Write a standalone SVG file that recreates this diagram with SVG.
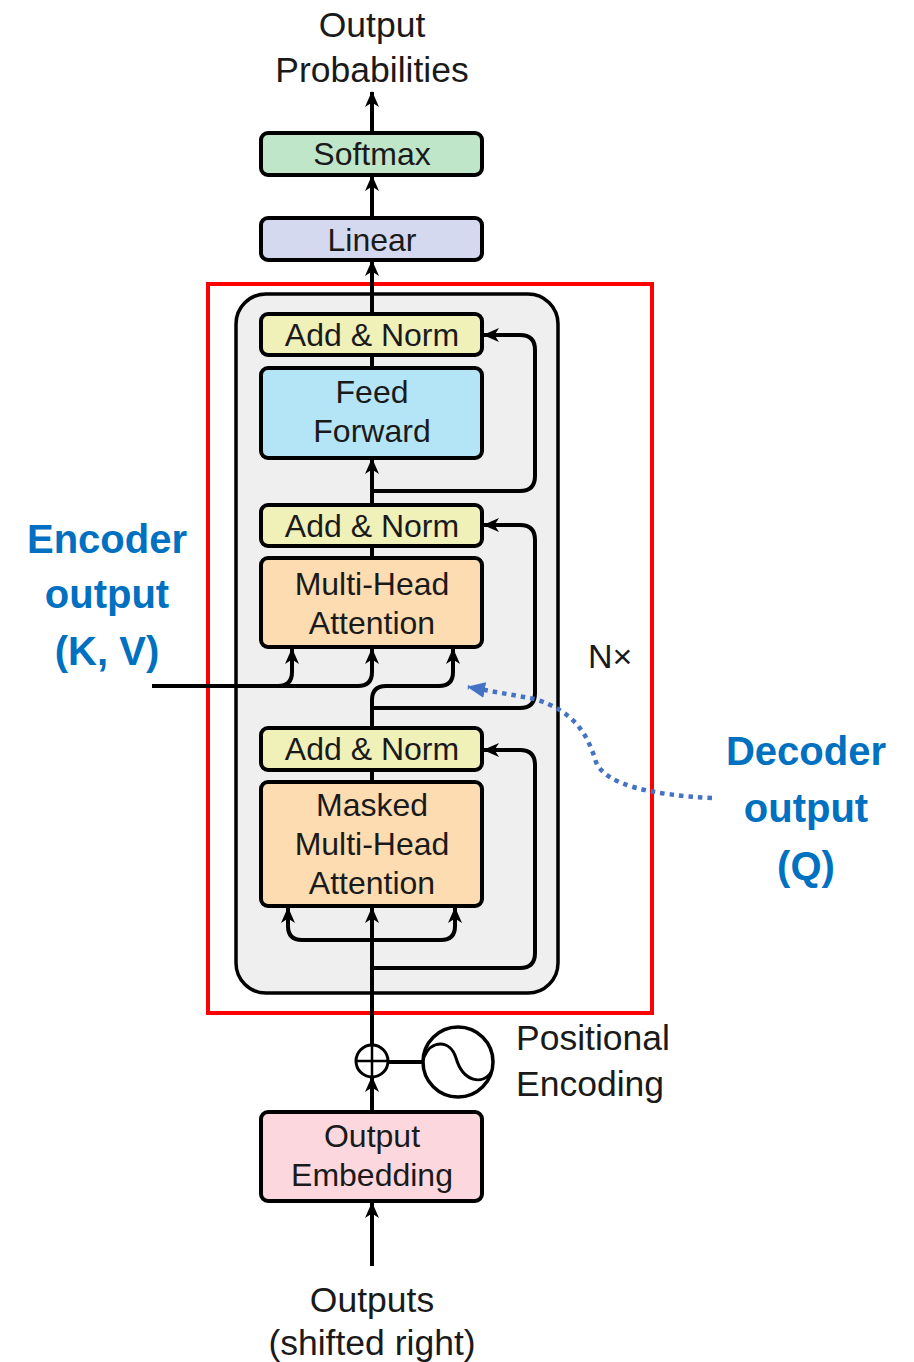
<svg xmlns="http://www.w3.org/2000/svg" width="914" height="1362" viewBox="0 0 914 1362">
  <style>
    .box { stroke: #000; stroke-width: 4; }
    .lbl { font-family: "Liberation Sans", Arial, sans-serif; font-size: 32px; fill: #1a1a1a; text-anchor: middle; }
    .big { font-family: "Liberation Sans", Arial, sans-serif; font-size: 35.5px; fill: #1a1a1a; text-anchor: middle; }
    .side { font-family: "Liberation Sans", Arial, sans-serif; font-size: 35.5px; fill: #1a1a1a; }
    .blue { font-family: "Liberation Sans", Arial, sans-serif; font-size: 40px; font-weight: bold; fill: #0070c0; text-anchor: middle; }
    .wire { fill: none; stroke: #000; stroke-width: 4; }
    .arrow { fill: none; stroke: #000; stroke-width: 4; marker-end: url(#head); }
    .addnorm { fill: #f0f0b9; }
  </style>
  <defs>
    <marker id="head" viewBox="0 0 16 14" refX="15" refY="7" markerWidth="16" markerHeight="14" markerUnits="userSpaceOnUse" orient="auto">
      <path d="M0,0 L16,7 L0,14 L4.5,7 z" fill="#000"/>
    </marker>
    <marker id="bluehead" viewBox="0 0 18 16" refX="17" refY="8" markerWidth="18" markerHeight="16" markerUnits="userSpaceOnUse" orient="auto">
      <path d="M0,0 L18,8 L0,16 z" fill="#4472c4"/>
    </marker>
  </defs>

  <rect width="914" height="1362" fill="#fff"/>

  <!-- decoder stack frame -->
  <g id="decoder-layer">
    <rect x="236" y="294" width="322" height="699" rx="30" fill="#efefef" stroke="#000" stroke-width="3.5"/>
    <text class="side" x="588" y="668" style="font-size:34px">N×</text>
  </g>

  <!-- highlight frame -->
  <g id="highlight">
    <rect x="208" y="284" width="444" height="729" fill="none" stroke="#ff0000" stroke-width="4"/>
  </g>

  <g id="connectors">
    <!-- top chain -->
    <path class="arrow" d="M372,133 V92"/>
    <path class="arrow" d="M372,218 V176"/>
    <path class="arrow" d="M372,314 V261"/>
    <!-- feed forward block -->
    <path class="wire" d="M372,368 V355"/>
    <path class="arrow" d="M372,505 V459"/>
    <path class="arrow" d="M372,491 H520 Q535,491 535,476 V350 Q535,335 520,335 H484"/>
    <!-- cross attention block -->
    <path class="wire" d="M372,558 V546"/>
    <path class="arrow" d="M372,708 H520 Q535,708 535,693 V540 Q535,525 520,525 H484"/>
    <path class="arrow" d="M372,727 V700 Q372,686 386,686 H439 Q453,686 453,672 V649"/>
    <path class="arrow" d="M152,686 H278 Q292,686 292,672 V649"/>
    <path class="arrow" d="M278,686 H358 Q372,686 372,672 V649"/>
    <!-- masked attention block -->
    <path class="wire" d="M372,782 V770"/>
    <path class="arrow" d="M372,968 H520 Q535,968 535,953 V765 Q535,750 520,750 H484"/>
    <path class="arrow" d="M372,1044 V908"/>
    <path class="arrow" d="M372,940 H302 Q288,940 288,926 V908"/>
    <path class="arrow" d="M372,940 H441 Q455,940 455,926 V908"/>
    <!-- embedding and positional encoding -->
    <path class="arrow" d="M372,1112 V1077"/>
    <path class="arrow" d="M372,1266 V1203"/>
    <path class="wire" d="M388,1062 H423"/>
    <!-- decoder query -->
    <path d="M712,798 C652,795 605,785 596,762 C588,736 576,712 535,699 L468,687" fill="none" stroke="#4472c4" stroke-width="4.5" stroke-dasharray="4.5 5" marker-end="url(#bluehead)"/>
  </g>

  <g id="softmax">
    <rect class="box" x="261" y="133" width="221" height="42" rx="7" fill="#bfe6c8"/>
    <text class="lbl" x="372" y="165">Softmax</text>
  </g>
  <g id="linear">
    <rect class="box" x="261" y="218" width="221" height="42" rx="7" fill="#d5d9ef"/>
    <text class="lbl" x="372" y="251">Linear</text>
  </g>
  <g id="addnorm-3">
    <rect class="box addnorm" x="261" y="314" width="221" height="41" rx="7"/>
    <text class="lbl" x="372" y="346">Add &amp; Norm</text>
  </g>
  <g id="feed-forward">
    <rect class="box" x="261" y="368" width="221" height="90" rx="7" fill="#b4e5f7"/>
    <text class="lbl" x="372" y="403">Feed</text>
    <text class="lbl" x="372" y="442">Forward</text>
  </g>
  <g id="addnorm-2">
    <rect class="box addnorm" x="261" y="505" width="221" height="41" rx="7"/>
    <text class="lbl" x="372" y="537">Add &amp; Norm</text>
  </g>
  <g id="multi-head-attention">
    <rect class="box" x="261" y="558" width="221" height="89" rx="7" fill="#fcdcb0"/>
    <text class="lbl" x="372" y="595">Multi-Head</text>
    <text class="lbl" x="372" y="634">Attention</text>
  </g>
  <g id="addnorm-1">
    <rect class="box addnorm" x="261" y="728" width="221" height="42" rx="7"/>
    <text class="lbl" x="372" y="760">Add &amp; Norm</text>
  </g>
  <g id="masked-attention">
    <rect class="box" x="261" y="782" width="221" height="124" rx="7" fill="#fcdcb0"/>
    <text class="lbl" x="372" y="816">Masked</text>
    <text class="lbl" x="372" y="855">Multi-Head</text>
    <text class="lbl" x="372" y="894">Attention</text>
  </g>
  <g id="adder">
    <circle cx="372" cy="1061" r="16" fill="#fff" stroke="#000" stroke-width="3"/>
    <path d="M356,1061 H388 M372,1045 V1077" stroke="#000" stroke-width="2.5"/>
  </g>
  <g id="positional-encoding">
    <circle cx="458" cy="1062" r="35" fill="#fff" stroke="#000" stroke-width="3.5"/>
    <path d="M424,1057 C431,1040 450,1039 456,1058 C463,1082 483,1086 492,1071" fill="none" stroke="#000" stroke-width="3"/>
    <text class="side" x="516" y="1050">Positional</text>
    <text class="side" x="516" y="1096">Encoding</text>
  </g>
  <g id="output-embedding">
    <rect class="box" x="261" y="1112" width="221" height="89" rx="7" fill="#fcd8de"/>
    <text class="lbl" x="372" y="1147">Output</text>
    <text class="lbl" x="372" y="1186">Embedding</text>
  </g>
  <g id="output-probabilities">
    <text class="big" x="372" y="37">Output</text>
    <text class="big" x="372" y="82">Probabilities</text>
  </g>
  <g id="outputs">
    <text class="big" x="372" y="1312">Outputs</text>
    <text class="big" x="372" y="1355">(shifted right)</text>
  </g>
  <g id="encoder-output">
    <text class="blue" x="107" y="553">Encoder</text>
    <text class="blue" x="107" y="608">output</text>
    <text class="blue" x="107" y="665">(K, V)</text>
  </g>
  <g id="decoder-output">
    <text class="blue" x="806" y="765">Decoder</text>
    <text class="blue" x="806" y="822">output</text>
    <text class="blue" x="806" y="880">(Q)</text>
  </g>
</svg>
